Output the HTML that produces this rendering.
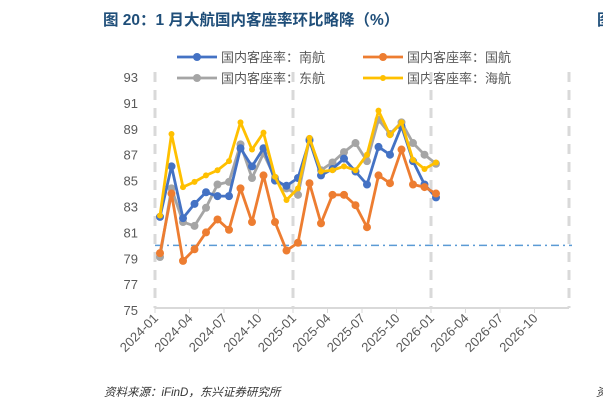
<!DOCTYPE html>
<html><head><meta charset="utf-8"><style>
body{margin:0;background:#fff;width:603px;height:411px;overflow:hidden;font-family:"Liberation Sans","Noto Sans CJK SC",sans-serif;}
</style></head><body>
<svg width="603" height="411" xmlns="http://www.w3.org/2000/svg">
<text x="103" y="25" font-size="15.5" font-weight="bold" fill="#1f4e79">图 20：1 月大航国内客座率环比略降（%）</text>
<text x="597" y="25" font-size="15.5" font-weight="bold" fill="#1f4e79">图</text>
<g id="legend"></g>
<g id="grid"></g><g id="axes"></g><g id="series"></g>
<text x="104" y="396" font-size="11.5" font-style="italic" fill="#333">资料来源：iFinD，东兴证券研究所</text>
<text x="596" y="396" font-size="11.5" font-style="italic" fill="#333">资</text>
</svg>
<script>
const months = ["2024-01","2024-04","2024-07","2024-10","2025-01","2025-04","2025-07","2025-10","2026-01","2026-04","2026-07","2026-10"];
const yTicks = [75,77,79,81,83,85,87,89,91,93];
const seriesNames = ["国内客座率：南航","国内客座率：国航","国内客座率：东航","国内客座率：海航"];
const seriesColors = ["#4472c4","#ed7d31","#a5a5a5","#ffc000"];
const southern = [82.2,86.1,82.1,83.2,84.1,83.8,83.8,87.5,86.1,87.5,85.0,84.6,85.2,88.1,85.4,85.9,86.7,85.7,84.7,87.6,87.0,89.2,86.5,84.7,83.7];
const airChina = [79.4,84.0,78.8,79.7,81.0,82.0,81.2,84.4,81.8,85.4,81.8,79.6,80.2,84.8,81.7,83.9,83.9,83.1,81.4,85.4,84.8,87.4,84.7,84.5,84.0];
const eastern = [79.1,84.4,81.8,81.5,82.9,84.7,84.9,87.8,85.2,87.1,85.2,84.4,83.9,88.2,85.8,86.4,87.2,87.9,86.5,89.7,88.6,89.5,87.9,87.0,86.3];
const hainan = [82.3,88.6,84.5,84.9,85.4,85.8,86.5,89.5,87.4,88.7,85.3,83.5,84.4,88.3,85.7,85.8,86.1,85.8,87.0,90.4,88.5,89.5,86.6,85.9,86.4];
const refLine = [80];
const NS="http://www.w3.org/2000/svg";
const X0=155, MW=11.5, PT=5;
const xTick=i=>X0+MW*i;
const xPt=i=>X0+PT+MW*i;
const yS=v=>77+(93-v)*12.95;
function mk(t,a,p){const e=document.createElementNS(NS,t);for(const k in a)e.setAttribute(k,a[k]);p.appendChild(e);return e;}
const grid=document.getElementById('grid'),axes=document.getElementById('axes'),ser=document.getElementById('series'),leg=document.getElementById('legend');
[0,12,24,36].forEach(i=>{const l=mk('line',{x1:xTick(i),x2:xTick(i),y1:72,y2:308,stroke:'#d9d9d9','stroke-width':3,'stroke-dasharray':'10,8'},grid);

});
const ax=mk('line',{x1:X0,x2:xTick(36),y1:308,y2:308,stroke:'#d9d9d9','stroke-width':2},axes);


yTicks.forEach(v=>{const t=mk('text',{x:138,y:yS(v)+5,'text-anchor':'end','font-size':13,fill:'#595959'},axes);t.textContent=v;

});
months.forEach((m,k)=>{const i=k*3,x=xTick(i);
mk('line',{x1:x,x2:x,y1:308,y2:313,stroke:'#d9d9d9','stroke-width':1},axes);
const t=mk('text',{x:x+4,y:319,'text-anchor':'end','font-size':13,fill:'#595959',transform:`rotate(-45 ${x+4} 319)`},axes);t.textContent=m;

});
const rl=mk('line',{x1:X0,x2:572,y1:yS(refLine[0]),y2:yS(refLine[0]),stroke:'#5b9bd5','stroke-width':1.5,'stroke-dasharray':'8,4,2,4'},ser);


const data=[southern,airChina,eastern,hainan];
const order=[2,0,1,3];
order.forEach(s=>{const d=data[s],c=seriesColors[s];
const g=mk('g',{},ser);


mk('polyline',{points:d.map((v,i)=>xPt(i)+','+yS(v)).join(' '),fill:'none',stroke:c,'stroke-width':2.8,'stroke-linejoin':'round'},g);
d.forEach((v,i)=>{const p=mk('circle',{cx:xPt(i),cy:yS(v),r:s==3?3:4,fill:c},g);

});});
const lp=[[177,57],[363,57],[177,78],[363,78]];
seriesNames.forEach((n,s)=>{const [x,y]=lp[s];
const g=mk('g',{},leg);


mk('line',{x1:x,x2:x+40,y1:y,y2:y,stroke:seriesColors[s],'stroke-width':2.8},g);
mk('circle',{cx:x+20,cy:y,r:s==3?3:4,fill:seriesColors[s]},g);
const t=mk('text',{x:x+44,y:y+5,'font-size':13,fill:'#595959'},g);t.textContent=n;});
</script>
</body></html>
